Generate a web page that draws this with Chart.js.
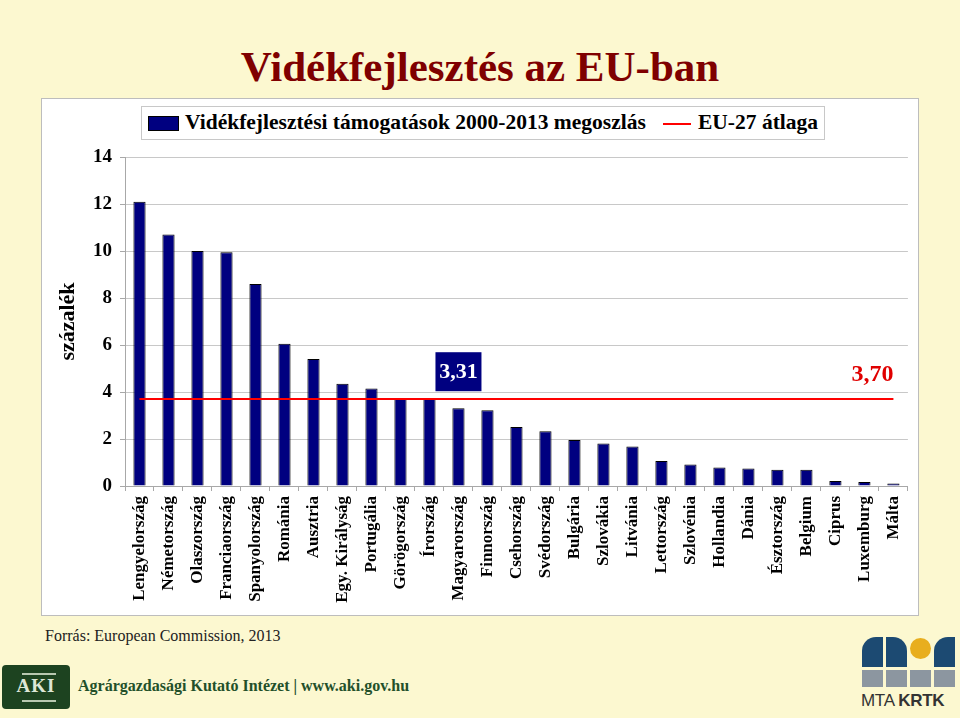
<!DOCTYPE html>
<html>
<head>
<meta charset="utf-8">
<script src="https://cdn.jsdelivr.net/npm/chart.js@4.4.1/dist/chart.umd.min.js"></script>
<style>
  html, body { margin: 0; padding: 0; }
  body { width: 960px; height: 718px; background: #FCF8D0; position: relative; overflow: hidden; font-family: "Liberation Serif", "Times New Roman", serif; }
  #title { position: absolute; left: 0; width: 960px; top: 41px; text-align: center; font-weight: bold; font-size: 43px; color: #7F0000; line-height: 52px; }
  #panel { position: absolute; left: 41px; top: 98px; width: 876px; height: 516px; background: #fff; border: 1px solid #BDBDBD; }
  #wrap { position: absolute; left: 41px; top: 98px; width: 878px; height: 518px; }
  #legend { position: absolute; left: 141px; top: 106px; width: 682px; height: 32px; border: 1px solid #C8C8C8; background: #fff; font-weight: bold; font-size: 21.5px; color: #000; }
  #legend .sw { position: absolute; left: 6px; top: 9px; width: 29px; height: 13px; background: #000080; border: 1px solid #000; }
  #legend .t1 { position: absolute; left: 43px; top: 3px; white-space: nowrap; }
  #legend .ln { position: absolute; left: 521px; top: 16px; width: 28px; height: 2px; background: #FF0000; }
  #legend .t2 { position: absolute; left: 556px; top: 3px; white-space: nowrap; }
  #source { position: absolute; left: 45px; top: 627px; font-size: 16px; color: #222; white-space: nowrap; }
  #aki { position: absolute; left: 2px; top: 665px; width: 68px; height: 44px; background: #1D4320; border-radius: 4px; }
  #aki .a { position: absolute; left: 0; width: 68px; top: 10px; text-align: center; color: #DDE6D6; font-size: 19px; font-weight: bold; letter-spacing: 1px; }
  #aki .l1 { position: absolute; left: 20px; top: 8px; width: 34px; height: 2px; background: #B8C8B0; }
  #aki .l2 { position: absolute; left: 20px; top: 35px; width: 34px; height: 2px; background: #B8C8B0; }
  #akitext { position: absolute; left: 78px; top: 677px; font-size: 16px; font-weight: bold; color: #23502A; white-space: nowrap; }
  #mta { position: absolute; left: 862px; top: 637px; width: 96px; height: 80px; }
  #mta .s { position: absolute; width: 21px; }
  #mta .txt { position: absolute; left: -1px; top: 54px; font-family: "Liberation Sans", Arial, sans-serif; font-size: 17px; color: #333; white-space: nowrap; letter-spacing: -0.3px; }
</style>
</head>
<body>
<div id="title">Vidékfejlesztés az EU-ban</div>
<div id="panel"></div>
<div id="wrap"><canvas id="c" width="878" height="518"></canvas></div>
<div id="legend">
  <div class="sw"></div><div class="t1">Vidékfejlesztési támogatások 2000-2013 megoszlás</div>
  <div class="ln"></div><div class="t2">EU-27 átlaga</div>
</div>
<div id="source">Forrás: European Commission, 2013</div>
<div id="aki"><div class="l1"></div><div class="a">AKI</div><div class="l2"></div></div>
<div id="akitext">Agrárgazdasági Kutató Intézet | www.aki.gov.hu</div>
<div id="mta">
  <div class="s" style="left:0;top:0;height:30px;background:#1C4A72;border-radius:14px 0 0 0;"></div>
  <div class="s" style="left:24px;top:0;height:30px;background:#1C4A72;border-radius:0 14px 0 0;"></div>
  <div class="s" style="left:48px;top:1px;height:21px;background:#E8AE1E;border-radius:50%;"></div>
  <div class="s" style="left:72px;top:0;height:30px;background:#1C4A72;border-radius:14px 0 0 0;"></div>
  <div class="s" style="left:0;top:33px;height:17px;background:#8C96A0;"></div>
  <div class="s" style="left:24px;top:33px;height:17px;background:#8C96A0;"></div>
  <div class="s" style="left:48px;top:33px;height:17px;background:#8C96A0;"></div>
  <div class="s" style="left:72px;top:33px;height:17px;background:#8C96A0;"></div>
  <div class="txt">MTA <b>KRTK</b></div>
</div>
<script>
const categories = ["Lengyelország","Németország","Olaszország","Franciaország","Spanyolország","Románia","Ausztria","Egy. Királyság","Portugália","Görögország","Írország","Magyarország","Finnország","Csehország","Svédország","Bulgária","Szlovákia","Litvánia","Lettország","Szlovénia","Hollandia","Dánia","Észtország","Belgium","Ciprus","Luxemburg","Málta"];
const shares = [12.1, 10.7, 10.0, 9.95, 8.6, 6.05, 5.4, 4.35, 4.15, 3.7, 3.7, 3.31, 3.22, 2.51, 2.33, 1.96, 1.81, 1.68, 1.06, 0.92, 0.79, 0.75, 0.69, 0.69, 0.21, 0.17, 0.11];
const euAverage = 3.70;
const averageLine = categories.map(() => euAverage);
const yTicks = [0, 2, 4, 6, 8, 10, 12, 14];
const highlightIndex = 11;

const fmt = v => v.toFixed(2).replace('.', ',');
const serif = '"Liberation Serif", "Times New Roman", serif';

const annot = {
  id: 'annot',
  afterDatasetsDraw(chart) {
    const ctx = chart.ctx, xs = chart.scales.x, ys = chart.scales.y;
    const hx = xs.getPixelForValue(highlightIndex);
    const hy = ys.getPixelForValue(shares[highlightIndex]);
    ctx.save();
    ctx.fillStyle = '#000080';
    ctx.fillRect(hx - 23, hy - 56, 46, 39);
    ctx.fillStyle = '#FFFFFF';
    ctx.font = 'bold 22px ' + serif;
    ctx.textAlign = 'center';
    ctx.textBaseline = 'middle';
    ctx.fillText(fmt(shares[highlightIndex]), hx, hy - 36);
    const lx = xs.getPixelForValue(categories.length - 1);
    const ly = ys.getPixelForValue(euAverage);
    ctx.fillStyle = '#E00000';
    ctx.font = 'bold 24px ' + serif;
    ctx.textAlign = 'right';
    ctx.fillText(fmt(euAverage), lx + 0, ly - 24);
    ctx.restore();
  }
};

new Chart(document.getElementById('c'), {
  data: {
    labels: categories,
    datasets: [
      { type: 'line', label: 'EU-27 átlaga', data: averageLine, borderColor: '#FF0000', borderWidth: 2, pointRadius: 0, fill: false, order: 0 },
      { type: 'bar', label: 'Vidékfejlesztési támogatások 2000-2013 megoszlás', data: shares, backgroundColor: '#000080', borderColor: '#000000', borderWidth: 1, barPercentage: 0.42, categoryPercentage: 1.0, order: 1 }
    ]
  },
  options: {
    responsive: false,
    animation: false,
    maintainAspectRatio: false,
    layout: { padding: { top: 59, right: 10, left: 0, bottom: 0 } },
    plugins: { legend: { display: false }, tooltip: { enabled: false } },
    scales: {
      x: {
        type: 'category',
        offset: true,
        grid: { drawOnChartArea: false, drawTicks: true, tickLength: 5, offset: true, color: '#A8A8A8' },
        border: { color: '#A8A8A8' },
        ticks: { autoSkip: false, maxRotation: 90, minRotation: 90, padding: 5, color: '#000', font: { family: serif, size: 17, weight: 'bold' } },
        afterFit(scale) { scale.height = 130; }
      },
      y: {
        min: 0, max: 14,
        afterBuildTicks(scale) { scale.ticks = yTicks.map(v => ({ value: v })); },
        grid: { color: '#C8C8C8', tickLength: 5, tickColor: '#A8A8A8' },
        border: { color: '#A8A8A8' },
        ticks: { padding: 8, color: '#000', font: { family: serif, size: 19, weight: 'bold' } },
        title: { display: true, text: 'százalék', color: '#000', padding: 14, font: { family: serif, size: 22, weight: 'bold' } },
        afterFit(scale) { scale.width = 84; }
      }
    }
  },
  plugins: [annot]
});
</script>
</body>
</html>
